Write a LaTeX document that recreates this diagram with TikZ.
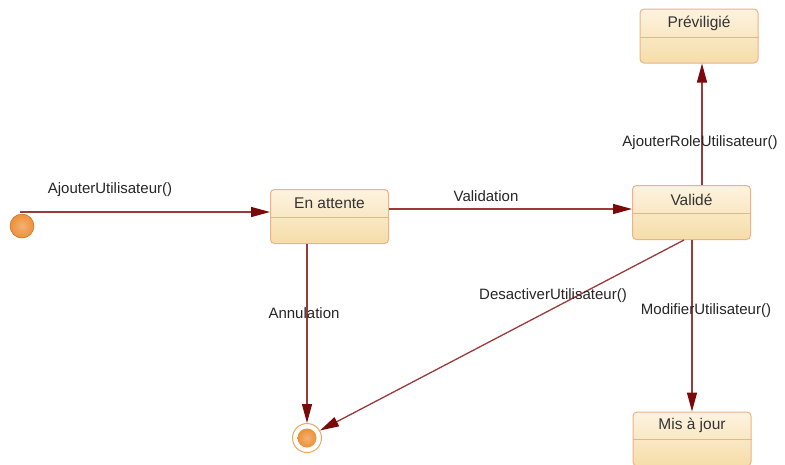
\documentclass[tikz,border=0pt]{standalone}
\usepackage{fontspec}
\setmainfont{Liberation Sans}
\usetikzlibrary{arrows.meta}
\definecolor{edgec}{HTML}{9A3A3A}
\definecolor{tipc}{HTML}{7A0A0A}
\definecolor{boxtop}{HTML}{FDF3E0}
\definecolor{boxbot}{HTML}{F6DDA8}
\definecolor{boxline}{HTML}{EFB08A}
\definecolor{initc}{HTML}{EE9038}
\definecolor{titlec}{HTML}{333333}
\tikzset{
  statebox/.style={draw=boxline, line width=1pt, rounded corners=4pt, top color=boxtop, bottom color=boxbot, minimum width=118pt, minimum height=54pt, inner sep=0pt},
  stitle/.style={font=\fontsize{15.5}{17}\selectfont, text=titlec, inner sep=0pt},
  divider/.style={draw=boxline, line width=1pt},
  trans/.style={draw=edgec, line width=1.3pt, -{Triangle[length=19pt,width=10pt,fill=tipc,color=tipc]}},
  lbl/.style={font=\fontsize{15}{17}\selectfont, text=black!85, inner sep=0pt}
}
\begin{document}
\begin{tikzpicture}[x=1pt,y=-1pt]
\clip (0,0) rectangle (785,464);
\fill[white] (0,0) rectangle (785,464);
% states
\node[statebox] (prev) at (699,36) {};
\node[statebox] (valide) at (691.5,212.5) {};
\node[statebox] (attente) at (329.5,216.5) {};
\node[statebox] (maj) at (692,439) {};
\draw[divider] (prev.west |- 0,37) -- (prev.east |- 0,37);
\draw[divider] (valide.west |- 0,213) -- (valide.east |- 0,213);
\draw[divider] (attente.west |- 0,217) -- (attente.east |- 0,217);
\draw[divider] (maj.west |- 0,439) -- (maj.east |- 0,439);
\node[stitle] (prevt) at (699,23.5) {Préviligié};
\node[stitle] (validet) at (691.5,199.5) {Validé};
\node[stitle] (attentet) at (329.5,203) {En attente};
\node[stitle] (majt) at (692,425.5) {Mis à jour};
% initial and final
\node[circle, draw=initc!80!black, line width=0.5pt, inner sep=0pt, minimum size=24pt, shading=radial, inner color=initc!70!white, outer color=initc] (init) at (22,226) {};
\node[circle, draw=initc!80, line width=1pt, fill=white, inner sep=0pt, minimum size=29pt] (final) at (307,438) {};
\node[circle, inner sep=0pt, minimum size=19pt, shading=radial, inner color=initc!70!white, outer color=initc] (finalin) at (final) {};
% transitions
\coordinate (s0) at (20,212);
\draw[trans] (s0) -- (attente.west |- s0);
\node[lbl] (l1) at (110,190) {AjouterUtilisateur()};
\draw[trans] (attente.east |- 0,209) -- (valide.west |- 0,209);
\node[lbl] (l2) at (486,196) {Validation};
\draw[trans] (valide.north -| 702,0) -- (prev.south -| 702,0);
\node[lbl] (l3) at (700,143) {AjouterRoleUtilisateur()};
\draw[trans] (attente.south -| 307,0) -- (final.north);
\node[lbl] (l4) at (304,313) {Annulation};
\draw[trans] (valide.south -| 684,0) -- (final.30);
\node[lbl] (l5) at (553,296) {DesactiverUtilisateur()};
\draw[trans] (valide.south -| 692,0) -- (maj.north -| 692,0);
\node[lbl] (l6) at (706,311) {ModifierUtilisateur()};
\end{tikzpicture}
\end{document}
